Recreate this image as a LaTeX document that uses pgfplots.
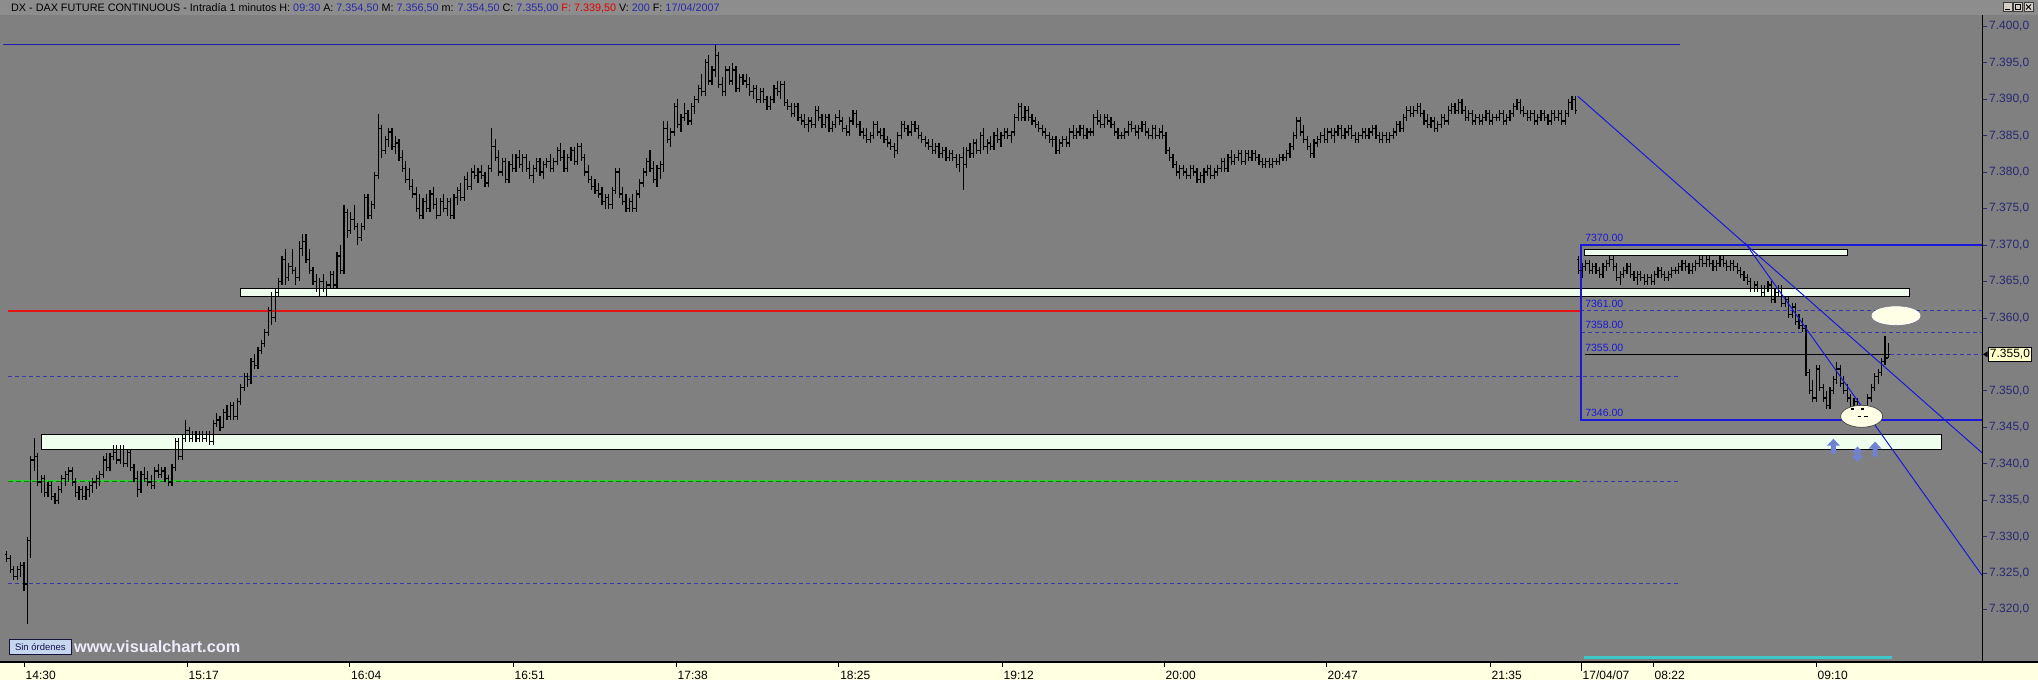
\documentclass[border=0pt]{standalone}
\usepackage{fontspec}
\setmainfont{Liberation Sans}
\usepackage{pgfplots}
\usepackage{pgfplotstable}
\pgfplotsset{compat=1.18}
\definecolor{bg}{RGB}{128,128,128}
\definecolor{hdr}{RGB}{141,141,141}
\definecolor{tipyel}{RGB}{255,255,225}
\definecolor{navy}{RGB}{40,40,115}
\definecolor{vblue}{RGB}{25,25,215}
\definecolor{hblue}{RGB}{30,30,175}
\definecolor{dashblue}{RGB}{55,55,165}
\definecolor{lgreen}{RGB}{238,255,238}
\definecolor{grn}{RGB}{45,205,45}
\definecolor{dgrn}{RGB}{20,120,20}
\definecolor{cyanl}{RGB}{64,200,200}
\definecolor{arrowblue}{RGB}{112,130,210}
\definecolor{cream}{RGB}{255,255,230}
\definecolor{hval}{RGB}{40,40,170}
\definecolor{hred}{RGB}{225,0,0}
\definecolor{pred}{RGB}{228,20,20}

\pgfdeclareplotmark{otick}{\pgfpathmoveto{\pgfpoint{-1.8pt}{0pt}}\pgfpathlineto{\pgfpoint{0pt}{0pt}}\pgfusepathqstroke}
\pgfdeclareplotmark{ctick}{\pgfpathmoveto{\pgfpoint{0pt}{0pt}}\pgfpathlineto{\pgfpoint{1.8pt}{0pt}}\pgfusepathqstroke}
\pgfdeclareplotmark{ellbig}{\pgfpathellipse{\pgfpointorigin}{\pgfpoint{24pt}{0pt}}{\pgfpoint{0pt}{9pt}}\pgfusepathqfillstroke}
\pgfdeclareplotmark{ellsmall}{\pgfpathellipse{\pgfpointorigin}{\pgfpoint{21pt}{0pt}}{\pgfpoint{0pt}{11pt}}\pgfusepathqfillstroke}
\pgfdeclareplotmark{uparrow}{%
 \pgfpathmoveto{\pgfpoint{0pt}{7.5pt}}\pgfpathlineto{\pgfpoint{6.5pt}{0.5pt}}\pgfpathlineto{\pgfpoint{2.5pt}{0.5pt}}%
 \pgfpathlineto{\pgfpoint{2.5pt}{-7.5pt}}\pgfpathlineto{\pgfpoint{-2.5pt}{-7.5pt}}\pgfpathlineto{\pgfpoint{-2.5pt}{0.5pt}}%
 \pgfpathlineto{\pgfpoint{-6.5pt}{0.5pt}}\pgfpathclose\pgfusepathqfill}
\pgfdeclareplotmark{udarrow}{%
 \pgfpathmoveto{\pgfpoint{0pt}{7.5pt}}\pgfpathlineto{\pgfpoint{6pt}{1.5pt}}\pgfpathlineto{\pgfpoint{-6pt}{1.5pt}}\pgfpathclose
 \pgfpathmoveto{\pgfpoint{0pt}{-7.5pt}}\pgfpathlineto{\pgfpoint{6pt}{-1.5pt}}\pgfpathlineto{\pgfpoint{-6pt}{-1.5pt}}\pgfpathclose
 \pgfpathrectangle{\pgfpoint{-2.5pt}{-2pt}}{\pgfpoint{5pt}{4pt}}\pgfusepathqfill}

\pgfplotstableread{
o h l c
7327.5 7328 7326.5 7327
7327 7327.5 7325 7325.5
7325.5 7326 7324 7324.5
7324.5 7326 7324 7325.5
7325.5 7326.5 7324.5 7326
7326 7326.5 7322.5 7323.5
7323.5 7330 7318 7329.5
7329.5 7341 7327 7340.5
7340.5 7343.5 7339 7341
7341 7341.5 7337 7337.5
7337.5 7338.5 7336 7338
7338 7338.5 7335.5 7336
7336 7337.5 7335.5 7337
7337 7337.5 7335 7335.5
7335.5 7336 7334.5 7335
7335 7337 7334.5 7336.5
7336.5 7338.5 7336 7338
7338 7339 7337 7338.5
7338.5 7339.5 7337.5 7339
7339 7339.5 7337 7337.5
7337.5 7338 7335.5 7336
7336 7337 7335 7336.5
7336.5 7337 7335 7335.5
7335.5 7337 7335 7336.5
7336.5 7337.5 7335.5 7337
7337 7338 7336 7337.5
7337.5 7338.5 7336.5 7338
7338 7339 7337 7338.5
7338.5 7341 7338 7340.5
7340.5 7341.5 7339 7339.5
7339.5 7341.5 7339 7341
7341 7342.5 7340.5 7341.5
7341.5 7342.5 7340 7340.5
7340.5 7342.5 7340 7342
7342 7342.5 7339.5 7340
7340 7342 7339.5 7341.5
7341.5 7342 7339 7339.5
7339.5 7340 7337.5 7338
7338 7339 7335.5 7336.5
7336.5 7339 7336 7338.5
7338.5 7339.5 7337.5 7338
7338 7339 7337 7337.5
7337.5 7338.5 7336.5 7337
7337 7339.5 7336.5 7339
7339 7340 7338 7338.5
7338.5 7339.5 7338 7339
7339 7339.5 7337.5 7338
7338 7338.5 7337 7337.5
7337.5 7340 7337 7339.5
7339.5 7343.5 7339 7343
7343 7343.5 7340.5 7341
7341 7344 7340.5 7343.5
7343.5 7346 7343 7344.5
7344.5 7345 7343 7343.5
7343.5 7344.5 7343 7344
7344 7344.5 7343 7343.5
7343.5 7344.5 7343 7344
7344 7344.5 7343 7343.5
7343.5 7344.5 7343 7344
7344 7344.5 7342.5 7343
7343 7346 7342.5 7345.5
7345.5 7347 7345 7346
7346 7346.5 7344.5 7345
7345 7347.5 7345 7347
7347 7348 7346 7346.5
7346.5 7348.5 7346 7348
7348 7348.5 7346 7346.5
7346.5 7349 7346 7348.5
7348.5 7351 7348 7350.5
7350.5 7352.5 7350 7352
7352 7352.5 7350.5 7351.5
7351.5 7354.5 7351 7354
7354 7355 7353 7353.5
7353.5 7356 7353 7355.5
7355.5 7357 7355 7356.5
7356.5 7358.5 7356 7358
7358 7361.5 7357.5 7361
7361 7363.5 7359 7360
7360 7364 7359.5 7363.5
7363.5 7365.5 7363 7365
7365 7368.5 7364.5 7368
7368 7369.5 7364.5 7365.5
7365.5 7367.5 7365 7367
7367 7369.5 7366 7366.5
7366.5 7367 7364.5 7365.5
7365.5 7370.5 7365 7369.5
7369.5 7371.5 7368.5 7370.5
7370.5 7371.5 7367.5 7368
7368 7369.5 7366 7366.5
7366.5 7367 7364.5 7365
7365 7366 7363.5 7364
7364 7365.5 7363 7365
7365 7366 7363.5 7364
7364 7365 7363 7364.5
7364.5 7366.5 7364 7366
7366 7366.5 7364 7364.5
7364.5 7369 7364 7368.5
7368.5 7370 7366 7366.5
7366.5 7375.5 7366 7374.5
7374.5 7375 7371 7372
7372 7374.5 7371.5 7373.5
7373.5 7375.5 7372 7372.5
7372.5 7373 7370 7371
7371 7373 7370.5 7372.5
7372.5 7377 7372 7376.5
7376.5 7377 7373.5 7374
7374 7376 7373.5 7375.5
7375.5 7380 7375 7379.5
7379.5 7388 7379 7386
7386 7386.5 7382 7383
7383 7385 7382.5 7384.5
7384.5 7386 7383.5 7385.5
7385.5 7386 7383 7383.5
7383.5 7385 7382.5 7384
7384 7384.5 7381.5 7382
7382 7383 7380 7380.5
7380.5 7381.5 7378.5 7379
7379 7380.5 7377.5 7378
7378 7379 7376.5 7377
7377 7378 7374.5 7375
7375 7377 7373.5 7374
7374 7376.5 7373.5 7376
7376 7377 7374.5 7375
7375 7377.5 7374.5 7377
7377 7378 7375 7375.5
7375.5 7376.5 7373.5 7374
7374 7376.5 7374 7376
7376 7377 7374.5 7375
7375 7376.5 7374 7376
7376 7376.5 7373.5 7374
7374 7377 7373.5 7376.5
7376.5 7378 7375.5 7377.5
7377.5 7378.5 7376 7376.5
7376.5 7379.5 7376 7379
7379 7380 7377.5 7378
7378 7380.5 7377.5 7380
7380 7381 7379 7379.5
7379.5 7380.5 7378.5 7380
7380 7381 7379 7379.5
7379.5 7380 7378 7378.5
7378.5 7381 7378 7380.5
7380.5 7386 7380 7383.5
7383.5 7384.5 7381.5 7382
7382 7383 7379.5 7380
7380 7382 7379.5 7381.5
7381.5 7382 7378.5 7379
7379 7381.5 7378.5 7381
7381 7382.5 7380 7380.5
7380.5 7382.5 7380 7382
7382 7383 7380.5 7381
7381 7382.5 7380 7382
7382 7382.5 7380 7380.5
7380.5 7381.5 7379 7379.5
7379.5 7381 7378.5 7380.5
7380.5 7382 7380 7381.5
7381.5 7382 7379.5 7380
7380 7381.5 7379 7381
7381 7382 7380.5 7381.5
7381.5 7382.5 7380 7380.5
7380.5 7382 7380 7381.5
7381.5 7383.5 7381 7383
7383 7384 7381.5 7382
7382 7383 7380 7380.5
7380.5 7382.5 7380 7382
7382 7383.5 7381.5 7383
7383 7383.5 7381 7381.5
7381.5 7384 7381 7383.5
7383.5 7384 7381.5 7382
7382 7382.5 7379.5 7380
7380 7381 7378.5 7379
7379 7379.5 7377.5 7378
7378 7379 7377 7377.5
7377.5 7378.5 7376.5 7377
7377 7378 7375.5 7376
7376 7377 7375 7376.5
7376.5 7377 7375 7375.5
7375.5 7378 7375 7377.5
7377.5 7380.5 7377 7380
7380 7380.5 7376.5 7377
7377 7378 7375.5 7376
7376 7377 7374.5 7375
7375 7376.5 7374.5 7376
7376 7377 7374.5 7375
7375 7377.5 7374.5 7377
7377 7379 7376.5 7378.5
7378.5 7380.5 7378 7380
7380 7382 7379.5 7381.5
7381.5 7383 7380 7380.5
7380.5 7381.5 7378.5 7379
7379 7381 7378 7380.5
7380.5 7381.5 7379 7381
7381 7387 7380 7386
7386 7387 7384 7384.5
7384.5 7386 7383.5 7385.5
7385.5 7389.5 7385 7389
7389 7390 7386 7386.5
7386.5 7388 7385.5 7387.5
7387.5 7389.5 7387 7388
7388 7388.5 7386.5 7387
7387 7389.5 7386.5 7389
7389 7390.5 7388 7390
7390 7392 7389.5 7391.5
7391.5 7393.5 7390.5 7391
7391 7395.5 7390.5 7395
7395 7396 7392 7392.5
7392.5 7394.5 7392 7394
7394 7397.5 7393 7396
7396 7396.5 7391.5 7392
7392 7393 7390.5 7391
7391 7394.5 7390.5 7394
7394 7394.5 7392 7392.5
7392.5 7395 7392 7394
7394 7394.5 7391 7391.5
7391.5 7393.5 7391 7393
7393 7393.5 7392 7392.5
7392.5 7393.5 7391.5 7392
7392 7393 7390.5 7391
7391 7392 7390 7391.5
7391.5 7392 7389.5 7390
7390 7391.5 7389.5 7391
7391 7391.5 7389.5 7390
7390 7390.5 7388.5 7389
7389 7390.5 7388.5 7390
7390 7392 7389.5 7391.5
7391.5 7392.5 7390.5 7391
7391 7392.5 7390 7392
7392 7392.5 7389 7389.5
7389.5 7390 7388.5 7389
7389 7389.5 7387.5 7388
7388 7389.5 7387.5 7389
7389 7389.5 7387 7387.5
7387.5 7388 7386.5 7387
7387 7388 7386 7386.5
7386.5 7387.5 7385.5 7387
7387 7387.5 7386 7386.5
7386.5 7389 7386 7388.5
7388.5 7389 7387 7387.5
7387.5 7388 7386 7386.5
7386.5 7388 7386 7387.5
7387.5 7388 7385.5 7386
7386 7387 7385.5 7386.5
7386.5 7388 7386 7387.5
7387.5 7388.5 7386.5 7387
7387 7387.5 7385.5 7386
7386 7386.5 7385 7385.5
7385.5 7387.5 7385 7387
7387 7388.5 7386.5 7388
7388 7388.5 7386 7386.5
7386.5 7387 7385 7385.5
7385.5 7386 7384.5 7385
7385 7386 7384 7384.5
7384.5 7385.5 7384 7385
7385 7387 7384.5 7386.5
7386.5 7387 7385 7385.5
7385.5 7386 7384.5 7385
7385 7386 7384 7384.5
7384.5 7385 7383.5 7384
7384 7384.5 7383 7383.5
7383.5 7384 7382 7383
7383 7385.5 7382.5 7385
7385 7387 7384.5 7386.5
7386.5 7387 7385.5 7386
7386 7386.5 7385 7385.5
7385.5 7387 7385 7386.5
7386.5 7387 7385.5 7386
7386 7386.5 7384.5 7385
7385 7385.5 7384 7384.5
7384.5 7385 7383.5 7384
7384 7384.5 7383 7383.5
7383.5 7384.5 7382.5 7383
7383 7384 7382.5 7383.5
7383.5 7384 7382 7382.5
7382.5 7383.5 7382 7383
7383 7383.5 7381.5 7382
7382 7383 7381.5 7382.5
7382.5 7383 7381.5 7382
7382 7382.5 7380.5 7381
7381 7382.5 7380 7382
7382 7383.5 7377.5 7381
7381 7383.5 7380.5 7383
7383 7384 7382 7382.5
7382.5 7384.5 7382 7384
7384 7384.5 7382.5 7383
7383 7385.5 7382.5 7385
7385 7386 7383 7383.5
7383.5 7384.5 7382.5 7384
7384 7385 7383 7383.5
7383.5 7385.5 7383 7385
7385 7386 7384 7384.5
7384.5 7385.5 7383.5 7385
7385 7386 7384.5 7385.5
7385.5 7386 7384.5 7385
7385 7385.5 7384 7385.5
7385.5 7388 7385 7387.5
7387.5 7389.5 7387 7389
7389 7389.5 7387 7387.5
7387.5 7389 7387 7388.5
7388.5 7389 7387 7387.5
7387.5 7388 7386.5 7387
7387 7387.5 7386 7386.5
7386.5 7387 7385.5 7386
7386 7386.5 7385 7385.5
7385.5 7386 7384.5 7385
7385 7385.5 7384 7384.5
7384.5 7385 7383.5 7384.5
7384.5 7385 7382.5 7383
7383 7384.5 7382.5 7384
7384 7385 7383.5 7384.5
7384.5 7385 7383.5 7384
7384 7386 7383.5 7385.5
7385.5 7386.5 7384.5 7385
7385 7386 7384.5 7385.5
7385.5 7386.5 7385 7386
7386 7386.5 7384.5 7385
7385 7386 7384.5 7385.5
7385.5 7386 7385 7385.5
7385.5 7388 7385 7387.5
7387.5 7388.5 7386.5 7387
7387 7388 7386 7386.5
7386.5 7388 7386 7387.5
7387.5 7388 7386.5 7387
7387 7387.5 7386 7386.5
7386.5 7387 7385 7385.5
7385.5 7386 7384.5 7385
7385 7385.5 7384.5 7385
7385 7386 7384.5 7385.5
7385.5 7387 7385 7386.5
7386.5 7387 7385.5 7386
7386 7386.5 7385 7385.5
7385.5 7386.5 7384.5 7386
7386 7387 7385.5 7386.5
7386.5 7387 7385 7385.5
7385.5 7386 7384.5 7385
7385 7386.5 7384.5 7386
7386 7386.5 7384.5 7385
7385 7386 7384.5 7385.5
7385.5 7386.5 7384.5 7385
7385 7385.5 7382.5 7383
7383 7383.5 7381.5 7382
7382 7382.5 7380.5 7381
7381 7381.5 7379.5 7380
7380 7381 7379 7380.5
7380.5 7381 7379.5 7380
7380 7380.5 7379 7379.5
7379.5 7381 7379 7380.5
7380.5 7381 7379.5 7380
7380 7380.5 7378.5 7379
7379 7380 7378.5 7379.5
7379.5 7380.5 7378.5 7380
7380 7381 7379.5 7380.5
7380.5 7381 7379 7379.5
7379.5 7380.5 7379 7380
7380 7381 7379.5 7380.5
7380.5 7382 7380 7381.5
7381.5 7382 7380 7380.5
7380.5 7382.5 7380 7382
7382 7383 7381 7381.5
7381.5 7382.5 7381 7382
7382 7383 7381.5 7382.5
7382.5 7383 7381 7381.5
7381.5 7383 7381 7382.5
7382.5 7383 7381.5 7382
7382 7383 7381.5 7382.5
7382.5 7383 7381.5 7382
7382 7382.5 7381 7381.5
7381.5 7382 7380.5 7381
7381 7382 7380.5 7381.5
7381.5 7382 7380.5 7381
7381 7382 7380.5 7381.5
7381.5 7382 7381 7381.5
7381.5 7382.5 7381 7382
7382 7382.5 7381.5 7382
7382 7383 7381.5 7382.5
7382.5 7384 7382 7383.5
7383.5 7385.5 7383 7385
7385 7387.5 7384.5 7387
7387 7387.5 7385 7385.5
7385.5 7386.5 7384 7384.5
7384.5 7385 7383 7383.5
7383.5 7384 7382 7382.5
7382.5 7384.5 7382 7384
7384 7385 7383.5 7384.5
7384.5 7385.5 7384 7385
7385 7386 7384 7384.5
7384.5 7386 7384 7385.5
7385.5 7386 7384.5 7385
7385 7386 7384 7385.5
7385.5 7386.5 7385 7386
7386 7386.5 7384.5 7385
7385 7386 7384.5 7385.5
7385.5 7386.5 7385 7386
7386 7386.5 7384.5 7385
7385 7385.5 7384 7384.5
7384.5 7385.5 7384 7385
7385 7386 7384.5 7385.5
7385.5 7386 7384.5 7385
7385 7386 7384.5 7385.5
7385.5 7386.5 7385 7386
7386 7386.5 7384.5 7385
7385 7385.5 7384 7384.5
7384.5 7385.5 7384 7385
7385 7385.5 7384 7384.5
7384.5 7385.5 7384 7385
7385 7386 7384.5 7385.5
7385.5 7387 7385 7386.5
7386.5 7387 7385.5 7386
7386 7388 7385.5 7387.5
7387.5 7389 7387 7388.5
7388.5 7389 7387.5 7388
7388 7389 7387.5 7388.5
7388.5 7389.5 7388 7389
7389 7389.5 7387.5 7388
7388 7388.5 7386.5 7387
7387 7388 7386 7386.5
7386.5 7387.5 7386 7387
7387 7387.5 7385.5 7386
7386 7387 7385.5 7386.5
7386.5 7388 7386 7387.5
7387.5 7388 7386.5 7387
7387 7389 7386.5 7388.5
7388.5 7389.5 7388 7389
7389 7389.5 7388 7388.5
7388.5 7390 7388 7389.5
7389.5 7390 7388 7388.5
7388.5 7389 7387 7387.5
7387.5 7388.5 7387 7388
7388 7388.5 7386.5 7387
7387 7388 7386.5 7387.5
7387.5 7388 7386.5 7387
7387 7388 7386.5 7387.5
7387.5 7388.5 7387 7388
7388 7388.5 7386.5 7387
7387 7388 7386.5 7387.5
7387.5 7388 7387 7387.5
7387.5 7388.5 7387 7388
7388 7388.5 7386.5 7387
7387 7388 7386.5 7387.5
7387.5 7388.5 7387 7388
7388 7389.5 7387.5 7389
7389 7390 7388.5 7389.5
7389.5 7390 7388 7388.5
7388.5 7389 7387.5 7388
7388 7388.5 7387 7387.5
7387.5 7388.5 7387 7388
7388 7388.5 7386.5 7387
7387 7388 7386.5 7387.5
7387.5 7388.5 7387 7388
7388 7388.5 7387 7387.5
7387.5 7388 7386.5 7387
7387 7388.5 7386.5 7388
7388 7388.5 7387 7387.5
7387.5 7388.5 7387 7388
7388 7388.5 7386.5 7387
7387 7388.5 7386.5 7388
7388 7390 7387.5 7389.5
7389.5 7390.5 7388.5 7390
7390 7390.5 7388 7388.5
7368 7368.5 7366 7366.5
7366.5 7367.5 7365.5 7367
7367 7368 7366.5 7367.5
7367.5 7368 7366 7366.5
7366.5 7367.5 7366 7367
7367 7367.5 7366 7366.5
7366.5 7367 7365.5 7366
7366 7367.5 7365.5 7367
7367 7368 7366.5 7367.5
7367.5 7368.5 7367 7368
7368 7368.5 7366.5 7367
7367 7367.5 7365 7365.5
7365.5 7366.5 7364.5 7366
7366 7367 7365.5 7366.5
7366.5 7367.5 7366 7367
7367 7367.5 7365.5 7366
7366 7366.5 7365 7365.5
7365.5 7366.5 7364.5 7366
7366 7366.5 7365 7365.5
7365.5 7366 7364.5 7365
7365 7366 7364.5 7365.5
7365.5 7366 7364.5 7365
7365 7366.5 7364.5 7366
7366 7367 7365.5 7366.5
7366.5 7367 7365.5 7366
7366 7366.5 7365 7365.5
7365.5 7366.5 7365 7366
7366 7367 7365.5 7366.5
7366.5 7367 7366 7366.5
7366.5 7367.5 7366 7367
7367 7368 7366.5 7367.5
7367.5 7368 7366.5 7367
7367 7367.5 7366 7366.5
7366.5 7367.5 7366 7367
7367 7368 7366.5 7367.5
7367.5 7368.5 7367 7368
7368 7368.5 7367 7367.5
7367.5 7368.5 7367 7368
7368 7368.5 7367 7367.5
7367.5 7368 7366.5 7367
7367 7368 7366.5 7367.5
7367.5 7368.5 7367 7368
7368 7368.5 7367 7367.5
7367.5 7368 7366.5 7367
7367 7368 7366.5 7367.5
7367.5 7368 7366.5 7367
7367 7367.5 7366 7366.5
7366.5 7367 7365.5 7366
7366 7366.5 7365 7365.5
7365.5 7366 7364.5 7365
7365 7365.5 7363.5 7364
7364 7365 7363.5 7364.5
7364.5 7365 7363.5 7364
7364 7364.5 7363 7363.5
7363.5 7364.5 7363 7364
7364 7365 7363.5 7364.5
7364.5 7365 7362 7362.5
7362.5 7364 7362 7363.5
7363.5 7364.5 7363 7364
7364 7364.5 7361.5 7362
7362 7363 7361.5 7362.5
7362.5 7363 7360 7360.5
7360.5 7362 7360 7361.5
7361.5 7362 7359 7359.5
7359.5 7360.5 7358.5 7359
7359 7360 7358 7358.5
7358.5 7359 7352 7352.5
7352.5 7353 7349.5 7350
7350 7351.5 7348.5 7349
7349 7353.5 7348.5 7353
7353 7353.5 7350 7350.5
7350.5 7351 7348.5 7349
7349 7350 7347.5 7348
7348 7350.5 7347.5 7350
7350 7352 7349.5 7351.5
7351.5 7354 7351 7353
7353 7353.5 7350.5 7351
7351 7352 7349.5 7350
7350 7351 7348.5 7349
7349 7349.5 7347 7347.5
7347.5 7349 7346.5 7348.5
7348.5 7349 7346 7346.5
7346.5 7348 7346 7347.5
7347.5 7348 7346 7346.5
7346.5 7349.5 7346 7349
7349 7351 7348.5 7350.5
7350.5 7352.5 7350 7352
7352 7353 7351 7352.5
7352.5 7354.5 7352 7354
7354 7357.5 7353.5 7354.5
7354.5 7356.5 7354.5 7355
}\ohlc

\begin{document}
\begin{tikzpicture}[x=1pt,y=1pt]
\path[use as bounding box] (0,-18) rectangle (2038,662);
\clip (0,-18) rectangle (2038,662);
\fill[bg] (0,0) rectangle (2038,647);
\fill[hdr] (0,647) rectangle (2038,662);
\fill[tipyel] (0,-18) rectangle (2038,0);

\begin{axis}[at={(0pt,0pt)}, anchor=south west, width=1982pt, height=647pt, scale only axis,
  xmin=-6.977, xmax=569.19, ymin=7312.8, ymax=7401.55, hide axis, clip=true]
% support / resistance rectangles
\addplot[draw=black, line width=1pt, fill=lgreen] coordinates {(62.8,7363) (548,7363) (548,7364) (62.8,7364)} -- cycle;
\addplot[draw=black, line width=1pt, fill=lgreen] coordinates {(5.2,7342) (557.5,7342) (557.5,7344) (5.2,7344)} -- cycle;
\addplot[draw=black, line width=1pt, fill=lgreen] coordinates {(453.5,7368.5) (530,7368.5) (530,7369.4) (453.5,7369.4)} -- cycle;
% ellipses
\addplot[only marks, mark=ellbig, mark options={fill=cream, draw=white, line width=0.8pt}] coordinates {(544.2,7360.3)};
\addplot[only marks, mark=ellsmall, mark options={fill=cream, draw={rgb,255:red,70;green,70;blue,70}, line width=0.7pt}] coordinates {(534.2,7346.5)};
% horizontal levels
\addplot[hblue, line width=1.3pt] coordinates {(-6.1,7397.5) (481.4,7397.5)};
\addplot[dashblue, line width=1pt, dash pattern=on 4pt off 3pt] coordinates {(-4.6,7352) (481.4,7352)};
\addplot[dashblue, line width=1pt, dash pattern=on 4pt off 3pt] coordinates {(-4.6,7337.6) (481.4,7337.6)};
\addplot[dashblue, line width=1pt, dash pattern=on 4pt off 3pt] coordinates {(-4.6,7323.6) (481.4,7323.6)};
\addplot[grn, line width=2.6pt] coordinates {(-4.6,7337.6) (452.3,7337.6)};
\addplot[dgrn, line width=0.9pt, dash pattern=on 5pt off 3pt] coordinates {(-4.6,7337.6) (452.3,7337.6)};
\addplot[pred, line width=2.2pt] coordinates {(-4.6,7361) (452.2,7361)};
\addplot[dashblue, line width=1pt, dash pattern=on 4pt off 3pt] coordinates {(452.2,7361) (569.19,7361)};
\addplot[dashblue, line width=1pt, dash pattern=on 4pt off 3pt] coordinates {(452.6,7358) (569.19,7358)};
\addplot[dashblue, line width=1pt, dash pattern=on 4pt off 3pt] coordinates {(542.4,7355) (569.19,7355)};
% OHLC bars
\addplot[draw=none, mark=none, error bars/.cd, y dir=minus, y explicit, error mark=none,
  error bar style={draw=black, solid, line width=1.2pt}]
  table[x expr=\coordindex-5, y=h, y error expr=\thisrow{h}-\thisrow{l}] {\ohlc};
\addplot[only marks, mark=otick, mark options={draw=black, line width=1.2pt}] table[x expr=\coordindex-5, y=o] {\ohlc};
\addplot[only marks, mark=ctick, mark options={draw=black, line width=1.2pt}] table[x expr=\coordindex-5, y=c] {\ohlc};
% box on the last session
\addplot[vblue, line width=1.3pt] coordinates {(569.19,7370) (452.6,7370) (452.6,7346) (569.19,7346)};
\addplot[black, line width=1.6pt] coordinates {(453.8,7355) (542.4,7355)};
% trend lines
\addplot[vblue, line width=1pt] coordinates {(451.7,7390.4) (569.19,7341.5)};
\addplot[vblue, line width=1pt] coordinates {(500.3,7370.3) (569.19,7324.7)};
% arrows
\addplot[only marks, mark=uparrow, color=arrowblue] coordinates {(526.0,7342.4) (538.1,7342.0)};
\addplot[only marks, mark=udarrow, color=arrowblue] coordinates {(533.0,7341.3)};
% cyan session line
\addplot[cyanl, line width=2.6pt] coordinates {(453.5,7313.4) (543,7313.4)};
% box labels
\node[anchor=base west, inner sep=0pt, font=\fontsize{10.5}{11}\selectfont, text=vblue, yshift=3.8pt] at (axis cs:453.8,7370) {7370.00};
\node[anchor=base west, inner sep=0pt, font=\fontsize{10.5}{11}\selectfont, text=vblue, yshift=2.8pt] at (axis cs:453.8,7361) {7361.00};
\node[anchor=base west, inner sep=0pt, font=\fontsize{10.5}{11}\selectfont, text=vblue, yshift=4.2pt] at (axis cs:453.8,7358) {7358.00};
\node[anchor=base west, inner sep=0pt, font=\fontsize{10.5}{11}\selectfont, text=vblue, yshift=3pt] at (axis cs:453.8,7355) {7355.00};
\node[anchor=base west, inner sep=0pt, font=\fontsize{10.5}{11}\selectfont, text=vblue, yshift=3pt] at (axis cs:453.8,7346) {7346.00};
\end{axis}

% frame lines
\draw[black, line width=1.2pt] (0,0) -- (2038,0);
\draw[black, line width=1pt] (1982,0) -- (1982,647);
% right price scale
\foreach \v in {400,395,390,385,380,375,370,365,360,350,345,340,335,330,325,320}{
  \pgfmathsetmacro\yy{(\v-312.8)*7.2901}
  \draw[navy, line width=0.8pt] (1983,\yy) -- (1987,\yy);
  \node[anchor=west, inner sep=0pt, font=\fontsize{12}{12}\selectfont, text=navy] at (1989,\yy) {7.\v,0};
}
\fill[black] (1983,307.6) -- (1987.5,310.6) -- (1987.5,304.6) -- cycle;
\node[anchor=west, draw=black, line width=0.8pt, fill={rgb,255:red,255;green,255;blue,200}, inner xsep=1.5pt, inner ysep=2pt, font=\fontsize{12}{12}\selectfont] at (1988,307.6) {7.355,0};
% time scale
\foreach \x/\t in {24/14:30,187/15:17,349.5/16:04,513/16:51,676/17:38,838.6/18:25,1002/19:12,1164/20:00,1326/20:47,1490/21:35,1653/08:22,1816/09:10}{
  \draw[black, line width=1pt] (\x,0) -- (\x,-5);
  \node[anchor=base west, inner sep=0pt, font=\fontsize{12}{12}\selectfont] at (\x+1.5,-17.3) {\t};
}
\draw[black, line width=1pt] (1581,0) -- (1581,-9);
\node[anchor=base west, inner sep=0pt, font=\fontsize{12}{12}\selectfont] at (1582.5,-17.3) {17/04/07};
% header
\node[anchor=base west, inner sep=0pt, font=\fontsize{10.8}{12}\selectfont] at (11,650.3) {DX - DAX FUTURE CONTINUOUS - Intradía 1 minutos H: \textcolor{hval}{09:30} A: \textcolor{hval}{7.354,50} M: \textcolor{hval}{7.356,50} m: \textcolor{hval}{7.354,50} C: \textcolor{hval}{7.355,00} \textcolor{hred}{F: 7.339,50} V: \textcolor{hval}{200} F: \textcolor{hval}{17/04/2007}};
\foreach \x in {2003,2013,2024}{
  \draw[fill={rgb,255:red,212;green,208;blue,200}, draw={rgb,255:red,60;green,60;blue,60}, line width=0.6pt] (\x,650.5) rectangle ++(9,9);
}
\draw[black, line width=1pt] (2005,652.5) -- (2009.5,652.5);
\draw[black, line width=0.8pt] (2015,652.5) rectangle (2020,657.5);
\draw[black, line width=1pt] (2026,652.5) -- (2031,657.5) (2026,657.5) -- (2031,652.5);
% bottom-left button and watermark
\node[draw={rgb,255:red,20;green,20;blue,60}, line width=0.8pt, fill={rgb,255:red,198;green,214;blue,238}, minimum width=62pt, minimum height=15pt, inner sep=0pt, font=\fontsize{9.5}{10}\selectfont, text={rgb,255:red,20;green,20;blue,80}, anchor=south west] at (9,7) {Sin órdenes};
\node[anchor=base west, inner sep=0pt, font=\bfseries\fontsize{16.3}{17}\selectfont, text={rgb,255:red,236;green,236;blue,250}] at (74,9.5) {www.visualchart.com};
\end{tikzpicture}
\end{document}
